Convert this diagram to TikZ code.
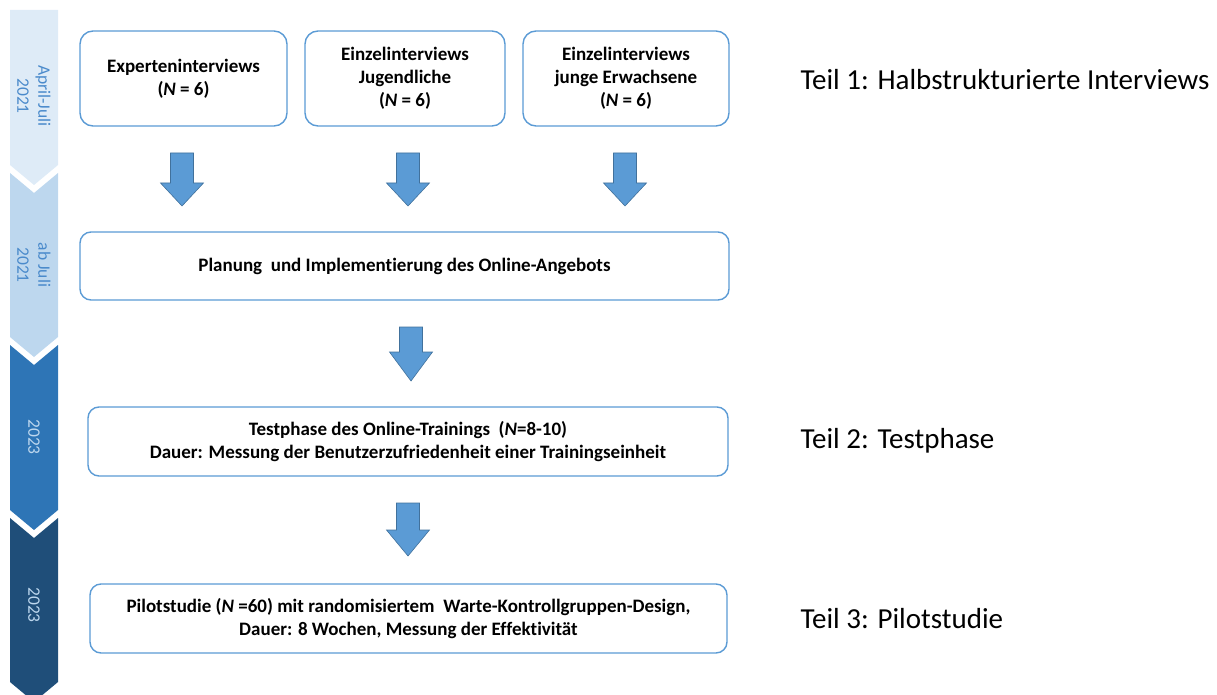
\documentclass[tikz,border=0pt]{standalone}
\usepackage{fontspec}
\setmainfont{Carlito}[Ligatures=NoCommon]
\definecolor{tl1}{HTML}{DEEBF7}
\definecolor{tl2}{HTML}{BDD7EE}
\definecolor{tl3}{HTML}{2E75B6}
\definecolor{tl4}{HTML}{1F4E79}
\definecolor{tltxt}{HTML}{4A8ACB}
\definecolor{boxline}{HTML}{5B9BD5}
\definecolor{arrfill}{HTML}{5B9BD5}
\definecolor{arrline}{HTML}{41719C}
\newcommand\blockarrow[4]{% cx, top, head start, tip
  \filldraw[barrow] (#1-11.5,#2) -- (#1+11.5,#2) -- (#1+11.5,#3) -- (#1+21.5,#3)
    -- (#1,#4) -- (#1-21.5,#3) -- (#1-11.5,#3) -- cycle;}
\begin{document}
\begin{tikzpicture}[x=1pt,y=-1pt,
  box/.style={draw=boxline, line width=1.4pt, rounded corners=13pt, fill=white,
    align=center, font=\fontsize{19}{23}\selectfont\bfseries, inner sep=0pt},
  barrow/.style={fill=arrfill, draw=arrline, line width=0.6pt},
  tltext/.style={rotate=-90, align=center, font=\fontsize{17.5}{21}\selectfont},
  teil/.style={anchor=west, font=\fontsize{29}{34}\selectfont}]
\useasboundingbox (0,0) rectangle (1217,695);
% timeline
\fill[tl1] (10,10) -- (58,10) -- (58,165) -- (34,185) -- (10,165) -- cycle;
\fill[tl2] (10,173) -- (34,193) -- (58,173) -- (58,337) -- (34,357) -- (10,337) -- cycle;
\fill[tl3] (10,345) -- (34,365) -- (58,345) -- (58,510) -- (34,530) -- (10,510) -- cycle;
\fill[tl4] (10,518) -- (34,538) -- (58,518) -- (58,682) -- (34,702) -- (10,682) -- cycle;
\node[tltext, text=tltxt] (t1) at (34,96) {April-Juli\\2021};
\node[tltext, text=tltxt] (t2) at (34,265) {ab Juli\\2021};
\node[tltext, text=tl2] (t3) at (34,437) {2023};
\node[tltext, text=tl2] (t4) at (34,605) {2023};
% boxes
\node[box, minimum width=207pt, minimum height=95pt] (a) at (183.5,78.5) {Experteninterviews\\(\textit{N} = 6)};
\node[box, minimum width=200pt, minimum height=95pt] (b) at (405,78.5) {Einzelinterviews\\Jugendliche\\(\textit{N} = 6)};
\node[box, minimum width=206pt, minimum height=95pt] (c) at (626,78.5) {Einzelinterviews\\junge Erwachsene\\(\textit{N} = 6)};
\node[box, rounded corners=11pt, minimum width=649pt, minimum height=68pt] (d) at (404.5,266) {Planung\ \ und Implementierung des Online-Angebots};
\node[box, rounded corners=11pt, minimum width=640pt, minimum height=69pt] (e) at (408,441.5) {Testphase des Online-Trainings\ \ (\textit{N}=8-10)\\Dauer: Messung der Benutzerzufriedenheit einer Trainingseinheit};
\node[box, rounded corners=11pt, minimum width=637pt, minimum height=69pt] (f) at (408.5,618.5) {Pilotstudie (\textit{N} =60) mit randomisiertem\ \ Warte-Kontrollgruppen-Design,\\Dauer: 8 Wochen, Messung der Effektivität};
% arrows
\blockarrow{182}{153}{183}{206}
\blockarrow{408}{153}{183}{206}
\blockarrow{625}{153}{183}{206}
\blockarrow{411}{327}{352}{381}
\blockarrow{408}{503}{530}{556}
% labels
\node[teil] (l1) at (797,80) {Teil 1: Halbstrukturierte Interviews};
\node[teil] (l2) at (797,441) {Teil 2: Testphase};
\node[teil] (l3) at (797,619) {Teil 3: Pilotstudie};
\end{tikzpicture}
\end{document}
